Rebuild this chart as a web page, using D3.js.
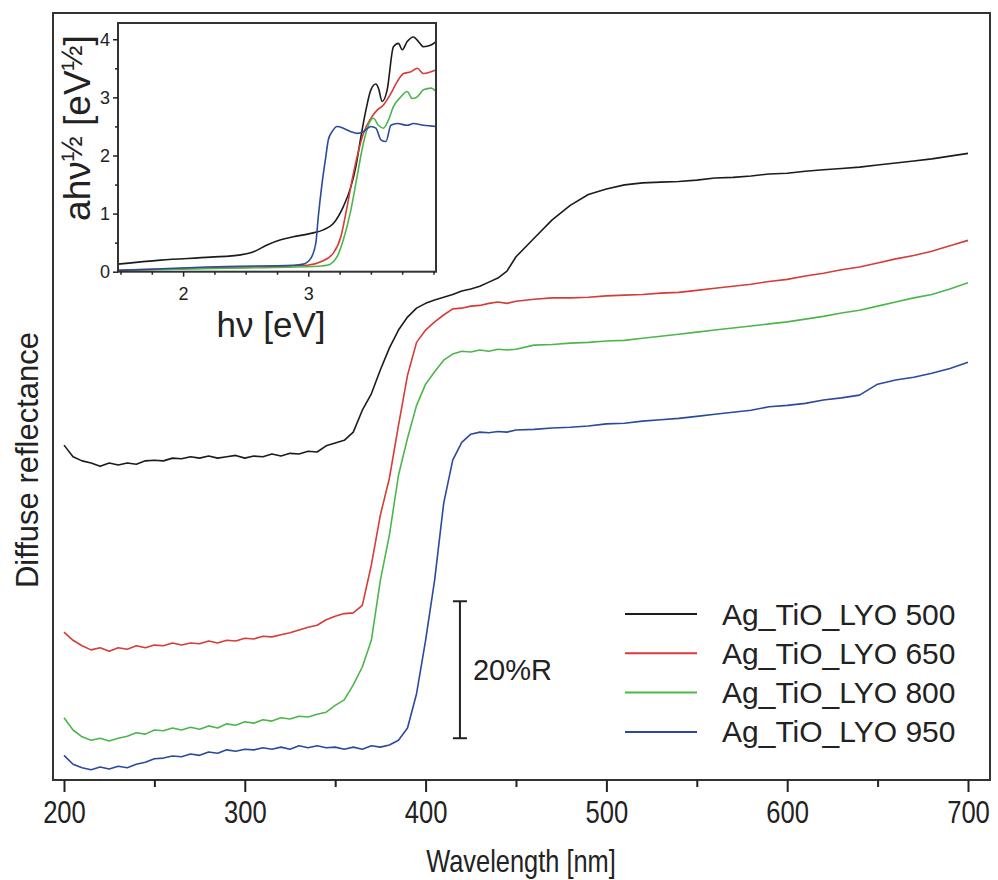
<!DOCTYPE html>
<html><head><meta charset="utf-8">
<script src="https://cdn.jsdelivr.net/npm/d3@7"></script>
<style>
body{margin:0;background:#fff}
svg{display:block}
text{font-family:"Liberation Sans",Arial,sans-serif;fill:#222}
</style>
</head><body><svg id="c" width="998" height="880"></svg>
<script>
// ---- main chart data (wavelength in nm, diffuse reflectance in %R, offset curves) ----
const wavelength = [200,205,210,215,220,225,230,235,240,245,250,255,260,265,270,275,280,285,290,295,
  300,305,310,315,320,325,330,335,340,345,350,355,360,365,370,375,380,385,390,395,
  400,405,410,415,420,425,430,435,440,445,450,
  460,470,480,490,500,510,520,530,540,550,560,570,580,590,600,610,620,630,640,650,660,670,680,690,700];

const r500 = [48.9,47.2,46.6,46.3,45.8,46.3,46.0,46.3,46.1,46.6,46.7,46.6,47.0,46.9,47.2,47.0,47.3,47.0,47.2,47.4,
  47.0,47.3,47.2,47.6,47.3,47.7,47.6,48.0,47.9,48.8,49.2,49.6,50.8,54.0,56.4,59.9,63.1,65.7,67.6,68.9,
  69.6,70.1,70.5,70.9,71.4,71.7,72.1,72.7,73.3,74.3,76.4,
  79.1,81.8,83.9,85.5,86.3,86.9,87.2,87.3,87.4,87.6,87.9,88.0,88.2,88.5,88.6,88.9,89.1,89.3,89.5,89.8,90.1,90.4,90.7,91.1,91.5];

const r650 = [21.6,20.4,19.6,19.0,19.3,18.8,19.3,19.1,19.6,19.3,19.7,19.6,20.0,19.7,20.0,19.9,20.3,20.0,20.4,20.3,
  20.7,20.6,21.0,20.9,21.2,21.5,21.9,22.3,22.6,23.4,23.9,24.3,24.4,25.5,31.4,38.7,44.1,51.8,59.1,63.9,
  65.7,66.9,67.9,68.8,68.9,69.2,69.3,69.6,69.8,69.6,69.9,
  70.2,70.4,70.4,70.5,70.7,70.8,70.9,71.1,71.2,71.5,71.8,72.1,72.4,72.8,73.1,73.6,74.0,74.5,74.9,75.5,76.1,76.6,77.2,78.0,78.8];

const r800 = [9.1,7.3,6.3,5.8,6.1,5.7,6.1,6.4,6.9,6.7,7.3,7.2,7.6,7.3,7.7,7.4,7.9,7.6,8.2,8.0,
  8.5,8.3,8.8,8.6,9.1,8.9,9.3,9.2,9.6,9.9,10.9,11.7,13.9,16.5,20.4,29.2,35.8,44.5,49.9,54.7,
  57.8,59.6,61.3,62.2,62.6,62.5,62.8,62.6,62.9,62.8,62.9,
  63.5,63.6,63.8,63.9,64.1,64.2,64.5,64.8,65.1,65.4,65.7,66.0,66.3,66.6,66.9,67.3,67.7,68.2,68.6,69.2,69.8,70.4,70.9,71.7,72.6];

const r950 = [3.6,2.3,1.8,1.5,1.9,1.6,2.0,1.8,2.3,2.6,3.1,3.2,3.5,3.4,3.8,3.6,4.1,3.9,4.4,4.2,
  4.5,4.4,4.7,4.5,4.8,4.5,5.0,4.7,5.0,4.7,4.8,4.5,4.8,4.5,5.0,4.8,5.1,5.8,7.6,12.6,
  20.4,29.2,40.4,46.7,49.3,50.5,50.8,50.7,50.9,50.8,51.1,
  51.2,51.4,51.5,51.7,52.0,52.1,52.4,52.6,52.8,53.1,53.4,53.7,54.0,54.5,54.7,55.0,55.5,55.8,56.2,57.8,58.4,58.8,59.4,60.1,61.0];

const seriesNames = ["Ag_TiO_LYO 500","Ag_TiO_LYO 650","Ag_TiO_LYO 800","Ag_TiO_LYO 950"];
const seriesColors = ["#1c1c1c","#d63c38","#4db64a","#2c4a9c"];
const xTicks = [200,300,400,500,600,700];
const xMinorTicks = [250,350,450,550,650];
const scaleBarValue = 20;      // %R
const scaleBarWavelength = 419;
const scaleBarBase = 6.1;

// ---- inset data (Tauc plot) ----
const insetEv500 = [1.48,1.82,2.22,2.46,2.56,2.67,2.78,2.88,3.02,3.12,3.20,3.28,3.34,3.38,3.42,3.46,3.50,3.54,3.56,3.59,3.63,3.68,3.72,3.75,3.79,3.84,3.88,3.92,3.98,4.02];
const insetY500  = [0.13,0.20,0.25,0.29,0.34,0.46,0.55,0.60,0.66,0.72,0.83,1.12,1.46,1.81,2.32,2.78,3.13,3.23,3.16,2.93,3.13,3.87,3.93,3.82,3.96,4.04,3.96,3.87,3.90,3.96];
const insetEv650 = [1.48,2.35,2.99,3.10,3.20,3.26,3.31,3.35,3.39,3.44,3.50,3.55,3.60,3.66,3.71,3.76,3.82,3.87,3.92,3.98,4.02];
const insetY650  = [0.03,0.07,0.11,0.17,0.32,0.60,1.12,1.58,1.98,2.38,2.64,2.78,2.87,3.07,3.27,3.41,3.44,3.50,3.41,3.44,3.47];
const insetEv800 = [1.48,2.35,3.04,3.15,3.23,3.28,3.34,3.39,3.44,3.50,3.52,3.56,3.60,3.64,3.68,3.74,3.79,3.83,3.87,3.92,3.98,4.02];
const insetY800  = [0.02,0.06,0.09,0.11,0.26,0.55,1.06,1.64,2.21,2.61,2.64,2.52,2.47,2.61,2.84,3.01,3.10,2.98,3.01,3.13,3.16,3.10];
const insetEv950 = [1.48,2.35,2.88,2.96,3.02,3.06,3.08,3.11,3.14,3.16,3.19,3.23,3.28,3.34,3.39,3.44,3.50,3.54,3.58,3.62,3.66,3.71,3.79,3.84,3.92,4.02];
const insetY950  = [0.02,0.09,0.11,0.13,0.23,0.49,0.95,1.52,1.98,2.27,2.41,2.50,2.47,2.41,2.38,2.41,2.50,2.47,2.27,2.24,2.52,2.55,2.52,2.55,2.52,2.50];
const insetXTicks = [2,3];
const insetXMinor = [1.5,1.75,2.25,2.5,2.75,3.25,3.5,3.75,4];
const insetYTicks = [0,1,2,3,4];
const insetYMinor = [0.5,1.5,2.5,3.5];

// ---- drawing ----
const svg = d3.select("#c");
const mainVals = [r500, r650, r800, r950];
const insetX = [insetEv500, insetEv650, insetEv800, insetEv950];
const insetY = [insetY500, insetY650, insetY800, insetY950];

const x = d3.scaleLinear().domain([193.92, 712.17]).range([53, 990]);
const y = d3.scaleLinear().domain([0, 112]).range([780, 13]);

// main curves
const line = d3.line().x(d => x(d[0])).y(d => y(d[1]));
mainVals.forEach((vals, i) => {
  svg.append("path")
    .datum(wavelength.map((w, k) => [w, vals[k]]))
    .attr("d", line)
    .attr("fill", "none")
    .attr("stroke", seriesColors[i])
    .attr("stroke-width", 1.6)
    .attr("stroke-linejoin", "round");
});

// frame
svg.append("rect").attr("x", 53).attr("y", 13).attr("width", 937).attr("height", 767)
  .attr("fill", "none").attr("stroke", "#333").attr("stroke-width", 2);

// x axis (condensed labels as in the original)
const gx = svg.append("g").attr("transform", "translate(0,780)")
  .call(d3.axisBottom(x).tickValues(xTicks).tickSize(12).tickPadding(0).tickFormat(d3.format("d")));
gx.select(".domain").remove();
gx.selectAll(".tick line").attr("stroke", "#222").attr("stroke-width", 2);
gx.selectAll(".tick text").style("font-size", "32px").attr("fill", "#222")
  .attr("y", 0).attr("dy", null).attr("transform", "translate(0,43) scale(0.8,1)");
const gxm = svg.append("g").attr("transform", "translate(0,780)")
  .call(d3.axisBottom(x).tickValues(xMinorTicks).tickSize(7).tickFormat(""));
gxm.select(".domain").remove();
gxm.selectAll(".tick line").attr("stroke", "#222").attr("stroke-width", 2);

svg.append("g").attr("transform", "translate(521,872) scale(0.82,1)")
  .append("text").attr("text-anchor", "middle")
  .style("font-size", "31px").text("Wavelength [nm]");
svg.append("text").attr("transform", "translate(38,460) rotate(-90)").attr("text-anchor", "middle")
  .style("font-size", "31px").text("Diffuse reflectance");

// scale bar
const sbx = x(scaleBarWavelength), sy0 = y(scaleBarBase), sy1 = y(scaleBarBase + scaleBarValue);
const sb = svg.append("g").attr("stroke", "#222").attr("stroke-width", 2);
sb.append("line").attr("x1", sbx).attr("x2", sbx).attr("y1", sy0).attr("y2", sy1);
sb.append("line").attr("x1", sbx - 7).attr("x2", sbx + 7).attr("y1", sy0).attr("y2", sy0);
sb.append("line").attr("x1", sbx - 7).attr("x2", sbx + 7).attr("y1", sy1).attr("y2", sy1);
svg.append("text").attr("x", sbx + 13).attr("y", (sy0 + sy1) / 2 + 10)
  .style("font-size", "29px").text(scaleBarValue + "%R");

// legend
const lg = svg.append("g");
seriesNames.forEach((n, i) => {
  const ly = 614 + i * 39.3;
  lg.append("line").attr("x1", 625).attr("x2", 697).attr("y1", ly).attr("y2", ly)
    .attr("stroke", seriesColors[i]).attr("stroke-width", 2);
  lg.append("text").attr("x", 722).attr("y", ly + 10.5).style("font-size", "30px").text(n);
});

// inset
const xi = d3.scaleLinear().domain([1.48, 4.02]).range([118, 436]);
const yi = d3.scaleLinear().domain([0, 4.28]).range([271.7, 23]);
svg.append("rect").attr("x", 118).attr("y", 23).attr("width", 318).attr("height", 248.7)
  .attr("fill", "#fff");
const iline = d3.line().x(d => xi(d[0])).y(d => yi(d[1])).curve(d3.curveMonotoneX);
[0, 1, 2, 3].forEach(i => {
  svg.append("path")
    .datum(insetX[i].map((e, k) => [e, insetY[i][k]]))
    .attr("d", iline).attr("fill", "none")
    .attr("stroke", seriesColors[i]).attr("stroke-width", 1.6);
});
svg.append("rect").attr("x", 118).attr("y", 23).attr("width", 318).attr("height", 248.7)
  .attr("fill", "none").attr("stroke", "#333").attr("stroke-width", 2);

const gix = svg.append("g").attr("transform", "translate(0,271.7)")
  .call(d3.axisBottom(xi).tickValues(insetXTicks).tickSize(5).tickPadding(11).tickFormat(d3.format("d")));
gix.select(".domain").remove();
gix.selectAll(".tick line").attr("stroke", "#222").attr("stroke-width", 1.5);
gix.selectAll(".tick text").style("font-size", "18px").attr("fill", "#222");
const gixm = svg.append("g").attr("transform", "translate(0,271.7)")
  .call(d3.axisBottom(xi).tickValues(insetXMinor).tickSize(3).tickFormat(""));
gixm.select(".domain").remove();
gixm.selectAll(".tick line").attr("stroke", "#222").attr("stroke-width", 1.5);

const giy = svg.append("g").attr("transform", "translate(118,0)")
  .call(d3.axisLeft(yi).tickValues(insetYTicks).tickSize(5).tickPadding(3).tickFormat(d3.format("d")));
giy.select(".domain").remove();
giy.selectAll(".tick line").attr("stroke", "#222").attr("stroke-width", 1.5);
giy.selectAll(".tick text").style("font-size", "18px").attr("fill", "#222");
const giym = svg.append("g").attr("transform", "translate(118,0)")
  .call(d3.axisLeft(yi).tickValues(insetYMinor).tickSize(3).tickFormat(""));
giym.select(".domain").remove();
giym.selectAll(".tick line").attr("stroke", "#222").attr("stroke-width", 1.5);

svg.append("text").attr("x", 271).attr("y", 337).attr("text-anchor", "middle")
  .style("font-size", "35px").text("h\u03BD [eV]");
const yl = svg.append("text").attr("transform", "translate(90,128) rotate(-90)")
  .attr("text-anchor", "middle").style("font-size", "37px");
yl.append("tspan").text("ah\u03BD");
yl.append("tspan").attr("dy", -8).style("font-size", "30px").text("\u00BD");
yl.append("tspan").attr("dy", 8).text(" [eV");
yl.append("tspan").attr("dy", -8).style("font-size", "30px").text("\u00BD");
yl.append("tspan").attr("dy", 8).text("]");
</script>
</body></html>
